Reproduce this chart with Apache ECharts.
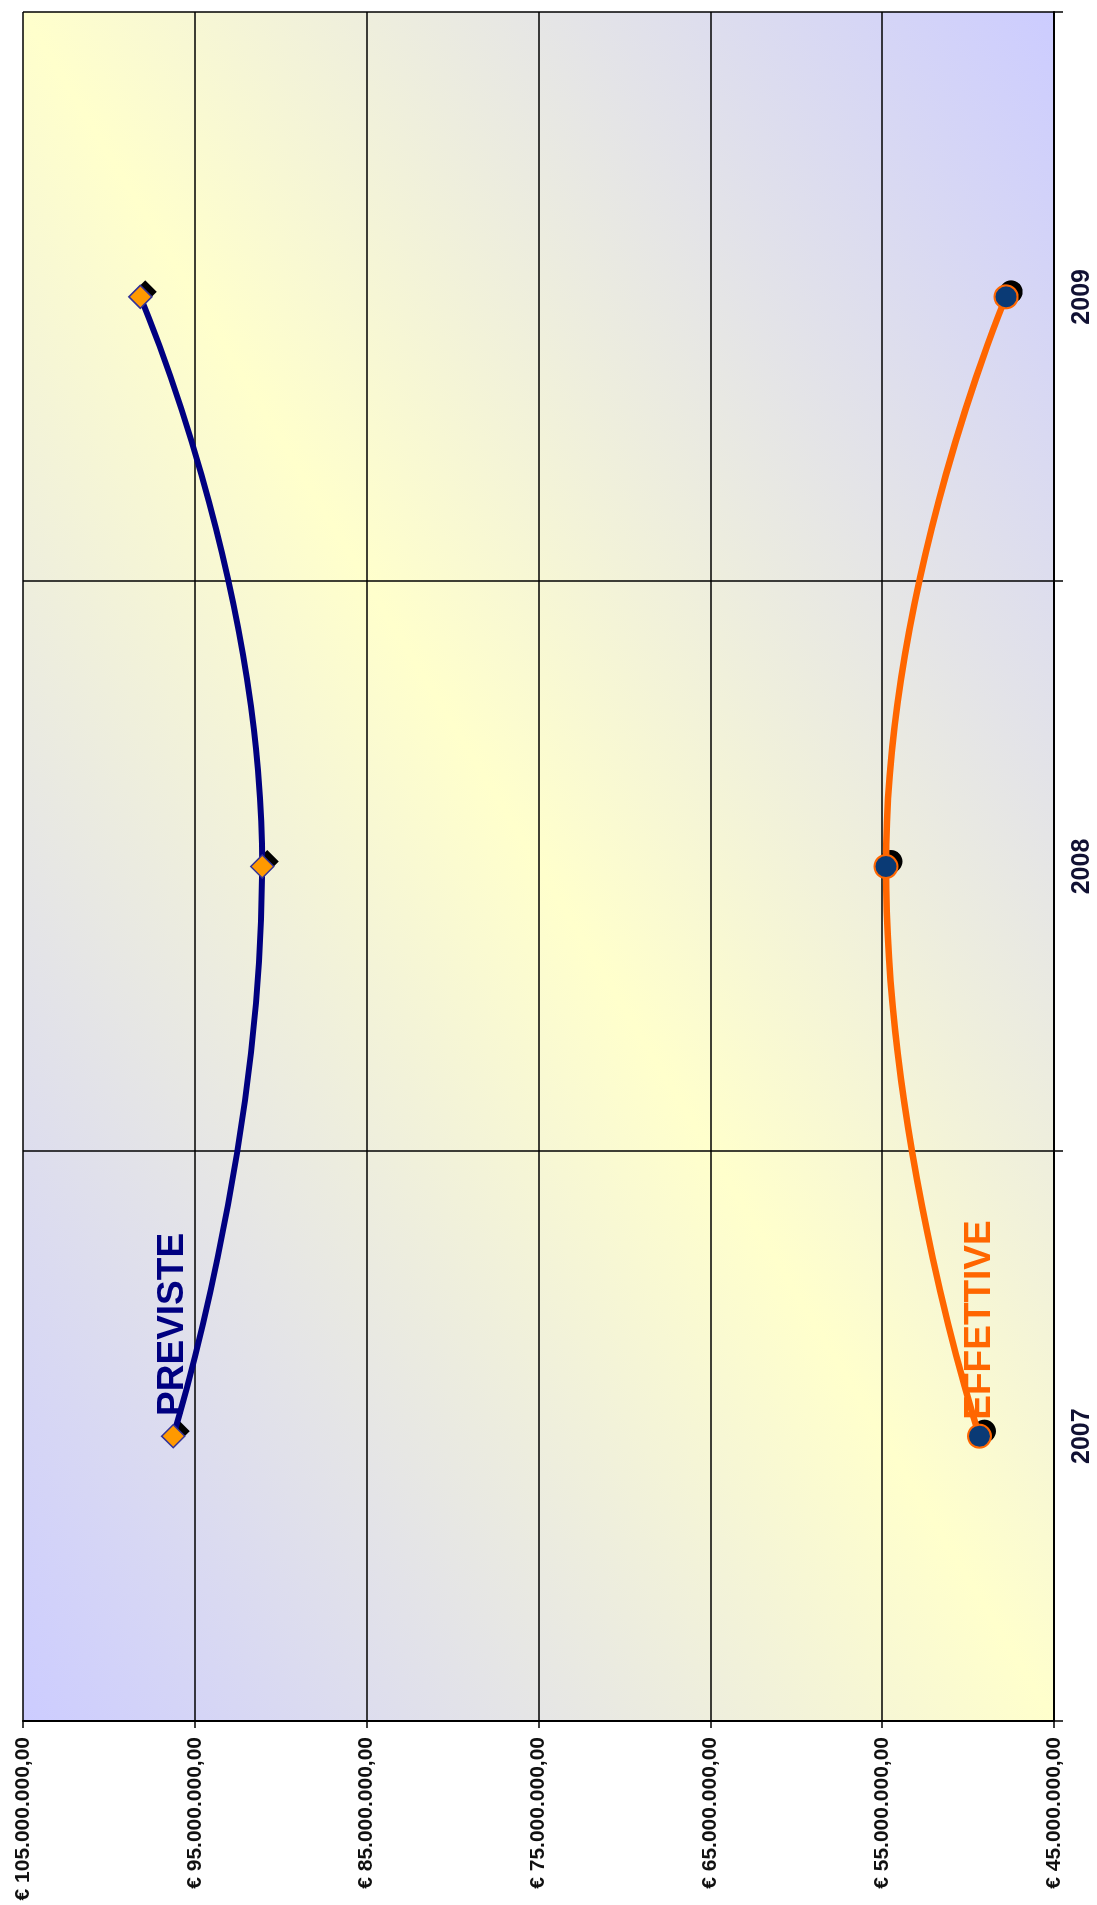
<!DOCTYPE html>
<html>
<head>
<meta charset="utf-8">
<script src="https://cdn.jsdelivr.net/npm/echarts@6/dist/echarts.min.js"></script>
<style>
    html, body {
        margin: 0;
        padding: 0;
        background: #fff;
        overflow: hidden;
        width: 1097px;
        height: 1905px;
    }
    /* il grafico e' disegnato in orizzontale e poi ruotato come nella pagina */
    #line-chart {
        position: absolute;
        left: 0;
        top: 0;
        width: 1905px;
        height: 1097px;
        transform-origin: 0 0;
        transform: translateY(1905px) rotate(-90deg);
    }
</style>
</head>
<body>
<div id="line-chart"></div>
<script>
    var years = ['2007', '2008', '2009'];
    var previste = [96260000, 91080000, 98170000];
    var effettive = [49340000, 54780000, 47790000];
    var valueMin = 45000000;
    var valueMax = 105000000;
    var valueStep = 10000000;

    function euro(v) {
        var s = Math.round(v).toString().replace(/\B(?=(\d{3})+(?!\d))/g, '.');
        return '€ ' + s + ',00';
    }

    var font = "'Liberation Sans', Arial, sans-serif";

    var myChart = echarts.init(document.getElementById('line-chart'), null, {width: 1905, height: 1097});

    // etichetta solo sul primo punto di ogni serie
    function firstLabel(arr, text, color, dist) {
        return arr.map(function (v, i) {
            if (i !== 0) {
                return v;
            }
            return {
                value: v,
                label: {
                    show: true,
                    position: 'right',
                    distance: dist,
                    formatter: text,
                    color: color,
                    fontSize: 37,
                    fontWeight: 'bold',
                    fontFamily: font
                }
            };
        });
    }

    // ombra nera dei marcatori, dietro le linee
    function shadowSeries(arr, symbol) {
        return {
            type: 'scatter',
            data: arr,
            symbol: symbol,
            symbolSize: 23,
            symbolOffset: [5, 5],
            itemStyle: {color: '#000', opacity: 1},
            z: 1,
            silent: true
        };
    }

    var options = {
        backgroundColor: '#fff',
        animation: false,
        grid: {
            left: 184,
            right: 12,
            top: 23,
            bottom: 43,
            outerBoundsMode: 'none',
            show: true,
            borderWidth: 0,
            backgroundColor: {
                type: 'linear',
                x: 0, y: 0, x2: 0.5337, y2: 1.4663,
                colorStops: [
                    {offset: 0, color: '#ccccff'},
                    {offset: 0.5, color: '#ffffcc'},
                    {offset: 1, color: '#ccccff'}
                ]
            }
        },
        xAxis: {
            type: 'category',
            data: years,
            boundaryGap: true,
            axisLine: {show: true, lineStyle: {color: '#000', width: 2}},
            axisTick: {show: true, length: 9, lineStyle: {color: '#000', width: 1.5}},
            splitLine: {show: true, interval: 0, lineStyle: {color: '#000', width: 1.5}},
            axisLabel: {
                margin: 16,
                fontSize: 25,
                fontWeight: 'bold',
                color: '#111133',
                fontFamily: font
            }
        },
        yAxis: {
            type: 'value',
            min: valueMin,
            max: valueMax,
            interval: valueStep,
            axisLine: {show: true, lineStyle: {color: '#000', width: 2}},
            axisTick: {show: true, length: 7, lineStyle: {color: '#000', width: 1.5}},
            splitLine: {show: true, lineStyle: {color: '#000', width: 1.5}},
            axisLabel: {
                margin: 16,
                fontSize: 21,
                fontWeight: 'bold',
                color: '#111',
                fontFamily: font,
                showMinLabel: true,
                showMaxLabel: true,
                formatter: euro
            }
        },
        series: [
            shadowSeries(previste, 'diamond'),
            shadowSeries(effettive, 'circle'),
            {
                name: 'PREVISTE',
                type: 'line',
                smooth: true,
                z: 2,
                data: firstLabel(previste, 'PREVISTE', '#000080', 8),
                symbol: 'diamond',
                symbolSize: 23,
                lineStyle: {color: '#000080', width: 6},
                itemStyle: {
                    color: '#ff9900',
                    borderColor: '#333399',
                    borderWidth: 1.5
                }
            },
            {
                name: 'EFFETTIVE',
                type: 'line',
                smooth: true,
                z: 2,
                data: firstLabel(effettive, 'EFFETTIVE', '#ff6600', 4),
                symbol: 'circle',
                symbolSize: 23,
                lineStyle: {color: '#ff6600', width: 6.5},
                itemStyle: {
                    color: '#0a3a75',
                    borderColor: '#ff6600',
                    borderWidth: 2
                }
            }
        ]
    };
    myChart.setOption(options);
</script>
</body>
</html>
